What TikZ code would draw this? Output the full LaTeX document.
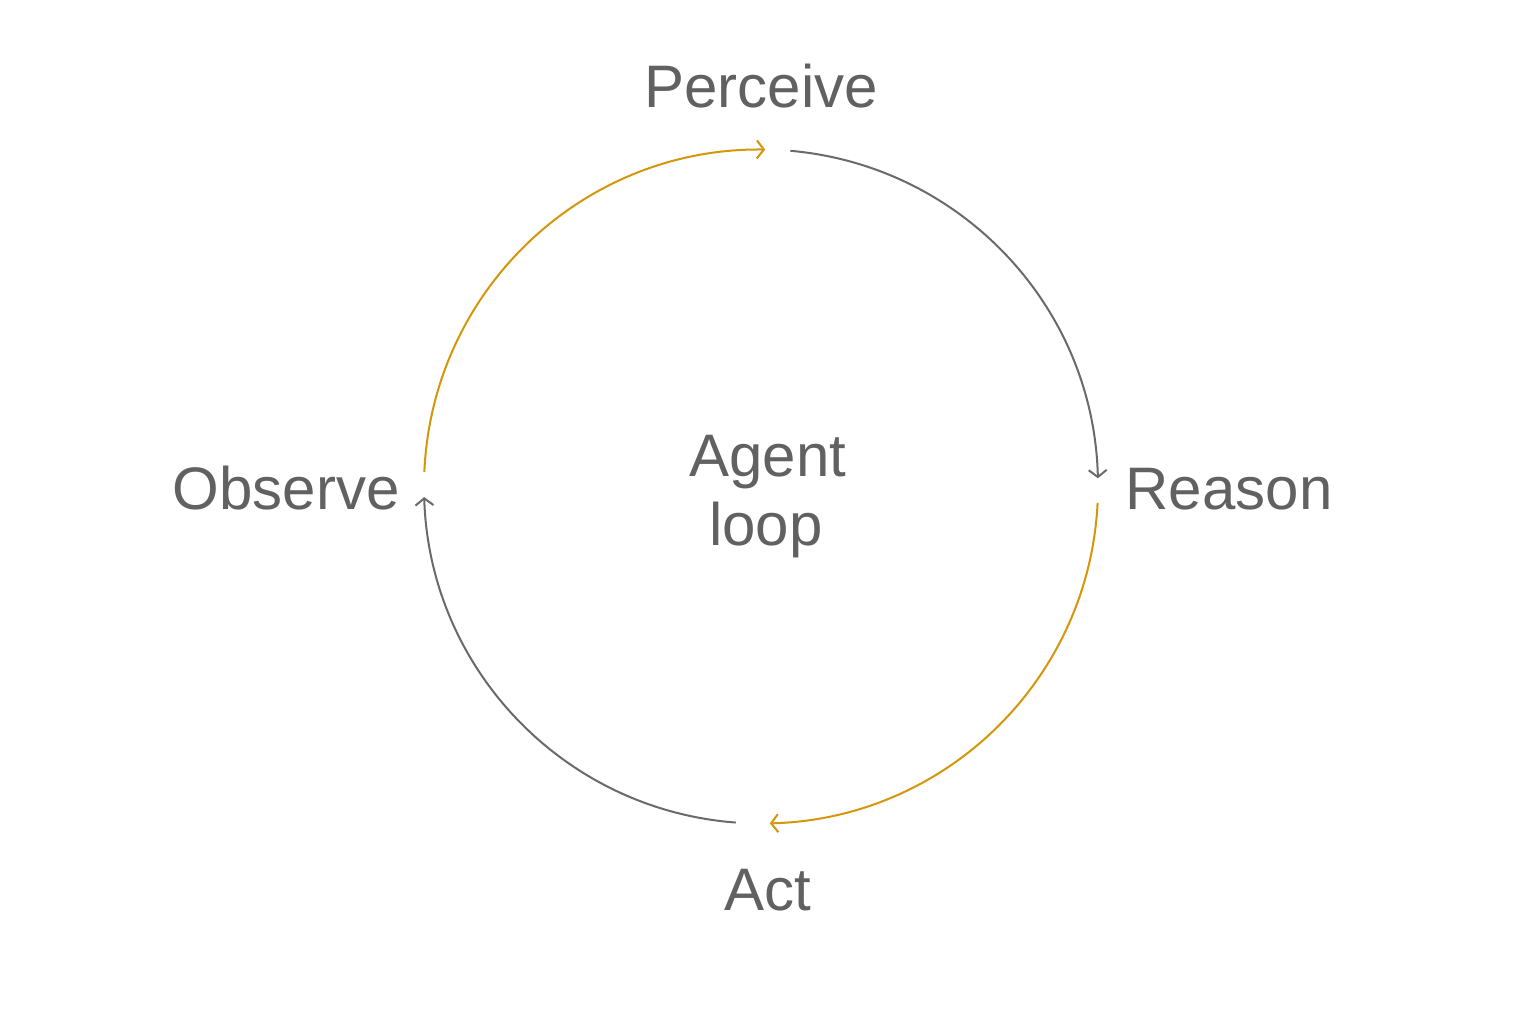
\documentclass[tikz,border=0pt]{standalone}
\usepackage{fontspec}
\setmainfont{Liberation Sans}
\usetikzlibrary{arrows.meta,calc}
\definecolor{txt}{HTML}{616161}
\definecolor{gr}{HTML}{6A6A6A}
\definecolor{org}{HTML}{D4960A}
\begin{document}
\begin{tikzpicture}[x=1bp,y=-1bp,
  lbl/.style={text=txt,font=\fontsize{60bp}{62bp}\selectfont,anchor=base,inner sep=0},
  arc/.style={line width=2bp,-{Straight Barb[length=7bp,width=18bp,line width=2bp]}}]
\useasboundingbox[fill=white] (0,0) rectangle (1536,1024);
\coordinate (c) at (761,486.5);
\node[lbl] (perceive) at (761,107) {Perceive};
\node[lbl] (reason) at (1229,509) {Reason};
\node[lbl] (observe) at (286,509) {Observe};
\node[lbl] (act) at (768,910) {Act};
\node[lbl] (agent) at (768,476) {Agent};
\node[lbl] (loop) at (766,545) {loop};
\draw[arc,org] ($(c)+(-177.5:337)$) arc[start angle=-177.5,end angle=-89.3,radius=337];
\draw[arc,gr] ($(c)+(-85:337)$) arc[start angle=-85,end angle=-1.4,radius=337];
\draw[arc,org] ($(c)+(2.8:337)$) arc[start angle=2.8,end angle=88.5,radius=337];
\draw[arc,gr] ($(c)+(94.3:337)$) arc[start angle=94.3,end angle=178.2,radius=337];
\end{tikzpicture}
\end{document}
